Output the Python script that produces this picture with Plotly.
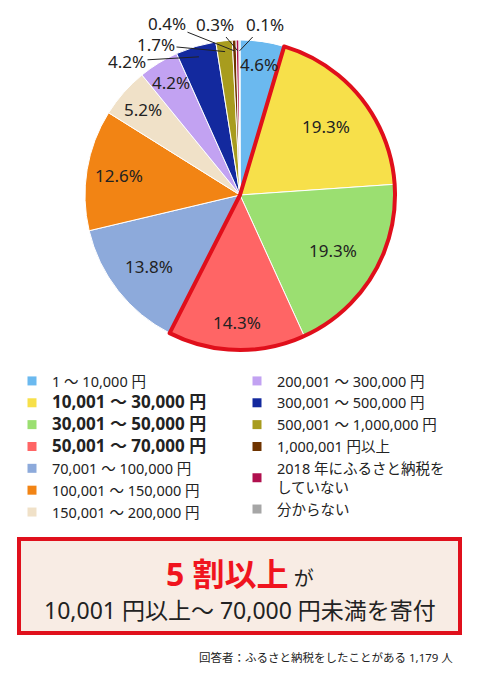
import math

import plotly.graph_objects as go

W, H = 480, 675
OFF = 8  # page body margin of the viewer
FONT = "Noto Sans, Noto Sans CJK JP"

labels = [
    "1 ～ 10,000 円",
    "10,001 ～ 30,000 円",
    "30,001 ～ 50,000 円",
    "50,001 ～ 70,000 円",
    "70,001 ～ 100,000 円",
    "100,001 ～ 150,000 円",
    "150,001 ～ 200,000 円",
    "200,001 ～ 300,000 円",
    "300,001 ～ 500,000 円",
    "500,001 ～ 1,000,000 円",
    "1,000,001 円以上",
    "2018 年にふるさと納税を<br>していない",
    "分からない",
]
shares = [4.6, 19.3, 19.3, 14.3, 13.8, 12.6, 5.2, 4.2, 4.2, 1.7, 0.4, 0.3, 0.1]
colors = [
    "#6BB9EF", "#F7E04A", "#9BDF71", "#FF6565", "#8DAADB", "#F28414", "#F0E1C8",
    "#C2A2F2", "#13299E", "#A89C1E", "#6E3300", "#B0104E", "#A6A6A6",
]
highlight = [1, 2, 3]  # 10,001 ~ 70,000
outside = [8, 9, 10, 11, 12]

# label placement: inside labels by radius fraction, outside labels by pixel position
inside_radius = {0: 0.85, 1: 0.71, 2: 0.70, 3: 0.82, 4: 0.75, 5: 0.79, 6: 0.83, 7: 0.85}
outside_pos = {8: (127, 61), 9: (156, 45), 10: (167, 24), 11: (215, 24), 12: (265, 24)}


def px_x(v):
    return (v - OFF) / W


def px_y(v):
    return 1 - (v - OFF) / H


cx, cy, r = 240, 195, 155
pie_domain = dict(x=[px_x(cx - r), px_x(cx + r)], y=[px_y(cy + r), px_y(cy - r)])

fig = go.Figure()

fig.add_trace(go.Pie(
    labels=labels,
    values=shares,
    sort=False,
    direction="clockwise",
    rotation=0,
    marker=dict(colors=colors, line=dict(color="white", width=1)),
    textinfo="none",
    domain=pie_domain,
    showlegend=False,
    hoverinfo="label+value",
))

# red outline around the highlighted group
grouped = [
    sum(shares[:highlight[0]]),
    sum(shares[i] for i in highlight),
    sum(shares[highlight[-1] + 1:]),
]
fig.add_trace(go.Pie(
    values=grouped,
    labels=["a", "b", "c"],
    sort=False,
    direction="clockwise",
    rotation=0,
    marker=dict(
        colors=["rgba(0,0,0,0)"] * 3,
        line=dict(color=["rgba(0,0,0,0)", "#E00F1B", "rgba(0,0,0,0)"], width=[0, 4, 0]),
    ),
    textinfo="none",
    hoverinfo="skip",
    domain=pie_domain,
    showlegend=False,
))

# percentage labels
total = sum(shares)
label_font = dict(family=FONT, size=17, color="#222")
for i, v in enumerate(shares):
    mid = (sum(shares[:i]) + v / 2) / total * 2 * math.pi
    if i in outside:
        tip_r = r * 0.93
        tx = cx + tip_r * math.sin(mid)
        ty = cy - tip_r * math.cos(mid)
        lx, ly = outside_pos[i]
        fig.add_annotation(
            x=px_x(tx), y=px_y(ty), xref="paper", yref="paper",
            text=f"{v:.1f}%", showarrow=True, arrowhead=0, arrowwidth=1,
            arrowcolor="#222", ax=lx - tx, ay=ly - ty, standoff=0,
            font=label_font,
        )
    else:
        rr = r * inside_radius[i]
        fig.add_annotation(
            x=px_x(cx + rr * math.sin(mid)), y=px_y(cy - rr * math.cos(mid)),
            xref="paper", yref="paper", xanchor="center", yanchor="middle",
            showarrow=False, text=f"{v:.1f}%", font=label_font,
        )

# legend entries, two columns
for i, (lab, col) in enumerate(zip(labels, colors)):
    name = lab
    if i in highlight:
        name = f"<b><span style='font-size:17px'>{lab}</span></b>"
    fig.add_trace(go.Scatter(
        x=[None], y=[None], mode="markers", name=name,
        marker=dict(symbol="square", size=9, color=col),
        legend="legend" if i < 7 else "legend2",
    ))

leg = dict(
    orientation="v", bgcolor="rgba(0,0,0,0)", yanchor="top",
    font=dict(family=FONT, size=14.5, color="#222"), itemwidth=30,
    tracegroupgap=0,
)
fig.update_layout(
    legend=dict(leg, x=px_x(12), y=px_y(365)),
    legend2=dict(leg, x=px_x(237), y=px_y(365)),
)

# summary box
fig.add_shape(
    type="rect", xref="paper", yref="paper",
    x0=px_x(19), x1=px_x(460), y0=px_y(633), y1=px_y(539),
    line=dict(color="#E0101C", width=4), fillcolor="#F8ECE4", layer="below",
)
fig.add_annotation(
    x=px_x(240), y=px_y(573), xref="paper", yref="paper", showarrow=False,
    xanchor="center", yanchor="middle",
    text="<b><span style='color:#F0141E;font-size:32px'>5 割以上</span></b><span style='font-size:20px'> が</span>",
    font=dict(family=FONT, size=20, color="#222"),
)
fig.add_annotation(
    x=px_x(240), y=px_y(610), xref="paper", yref="paper", showarrow=False,
    xanchor="center", yanchor="middle",
    text="10,001 円以上～ 70,000 円未満を寄付",
    font=dict(family=FONT, size=23, color="#222"),
)
fig.add_annotation(
    x=px_x(455), y=px_y(657), xref="paper", yref="paper", showarrow=False,
    xanchor="right", yanchor="middle",
    text="回答者：ふるさと納税をしたことがある 1,179 人",
    font=dict(family=FONT, size=11.5, color="#222"),
)

fig.update_layout(
    width=W, height=H,
    margin=dict(l=0, r=0, t=0, b=0, autoexpand=False),
    paper_bgcolor="white", plot_bgcolor="white",
    xaxis=dict(visible=False), yaxis=dict(visible=False),
    font=dict(family=FONT),
)

fig.write_html("out.html")
